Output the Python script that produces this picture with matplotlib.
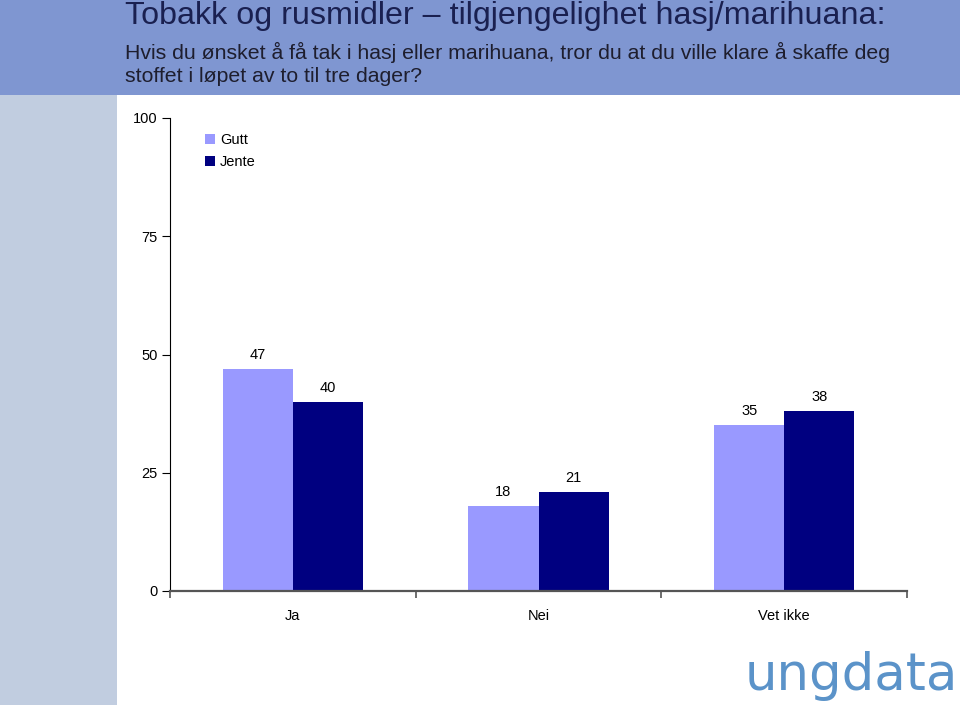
import matplotlib.pyplot as plt
from matplotlib.patches import Rectangle
import numpy as np

categories = ["Ja", "Nei", "Vet ikke"]
gutt = [47, 18, 35]
jente = [40, 21, 38]
series_names = ["Gutt", "Jente"]
yticks = [0, 25, 50, 75, 100]

title = "Tobakk og rusmidler \u2013 tilgjengelighet hasj/marihuana:"
subtitle1 = "Hvis du \u00f8nsket \u00e5 f\u00e5 tak i hasj eller marihuana, tror du at du ville klare \u00e5 skaffe deg"
subtitle2 = "stoffet i l\u00f8pet av to til tre dager?"

c_gutt = "#9999ff"
c_jente = "#000080"

fig = plt.figure(figsize=(9.6, 7.05), dpi=100)
fig.patch.set_facecolor("white")

# header band and left strip
fig.add_artist(Rectangle((0, 1 - 95 / 705), 1, 95 / 705, transform=fig.transFigure,
                         facecolor="#7f96d1", edgecolor="none", zorder=0))
fig.add_artist(Rectangle((0, 0), 117 / 960, 1 - 95 / 705, transform=fig.transFigure,
                         facecolor="#c1cde0", edgecolor="none", zorder=0))

fig.text(125 / 960, 1 - 16 / 705, title, fontsize=23.2, color="#1a2050",
         family="Liberation Sans", va="center", ha="left")
fig.text(125 / 960, 1 - 52 / 705, subtitle1, fontsize=15.3, color="#1e1e2e",
         family="Liberation Sans", va="center", ha="left")
fig.text(125 / 960, 1 - 77 / 705, subtitle2, fontsize=15.3, color="#1e1e2e",
         family="Liberation Sans", va="center", ha="left")

ax = fig.add_axes([170 / 960, 1 - 591 / 705, 737 / 960, 473 / 705])
x = np.arange(len(categories)) + 0.5
w = 0.285
b1 = ax.bar(x - w / 2, gutt, w, color=c_gutt, label=series_names[0], zorder=2)
b2 = ax.bar(x + w / 2, jente, w, color=c_jente, label=series_names[1], zorder=2)

for bars, vals in ((b1, gutt), (b2, jente)):
    for r, v in zip(bars, vals):
        ax.text(r.get_x() + r.get_width() / 2, v + 1.5, str(v), ha="center", va="bottom",
                fontsize=10.5, family="Liberation Sans", color="black")

ax.set_xlim(0, 3)
ax.set_ylim(0, 100)
ax.set_yticks(yticks)
ax.set_yticklabels([str(t) for t in yticks], family="Liberation Sans", fontsize=10.5)
ax.set_xticks([0, 1, 2, 3])
ax.set_xticklabels([])
ax.set_xticks(x, minor=True)
ax.set_xticklabels(categories, minor=True, family="Liberation Sans", fontsize=10.5)
ax.tick_params(axis="x", which="minor", length=0, pad=13)
ax.tick_params(axis="x", which="major", length=5, color="#555555", width=1.2)
ax.tick_params(axis="y", length=6, width=0.8, pad=3)

for s in ("top", "right"):
    ax.spines[s].set_visible(False)
ax.spines["left"].set_linewidth(0.8)
ax.spines["bottom"].set_color("#555555")
ax.spines["bottom"].set_linewidth(1.6)

leg = ax.legend(loc="upper left", bbox_to_anchor=(0.03, 0.995), frameon=False,
                prop={"family": "Liberation Sans", "size": 10.5},
                handlelength=0.7, handleheight=0.7, handletextpad=0.3, labelspacing=0.5)

fig.text(0.998, 1 - 676 / 705, "ungdata", fontsize=37, color="#5b93c9",
         family="DejaVu Sans", ha="right", va="center")

fig.savefig("out.png", dpi=100)
